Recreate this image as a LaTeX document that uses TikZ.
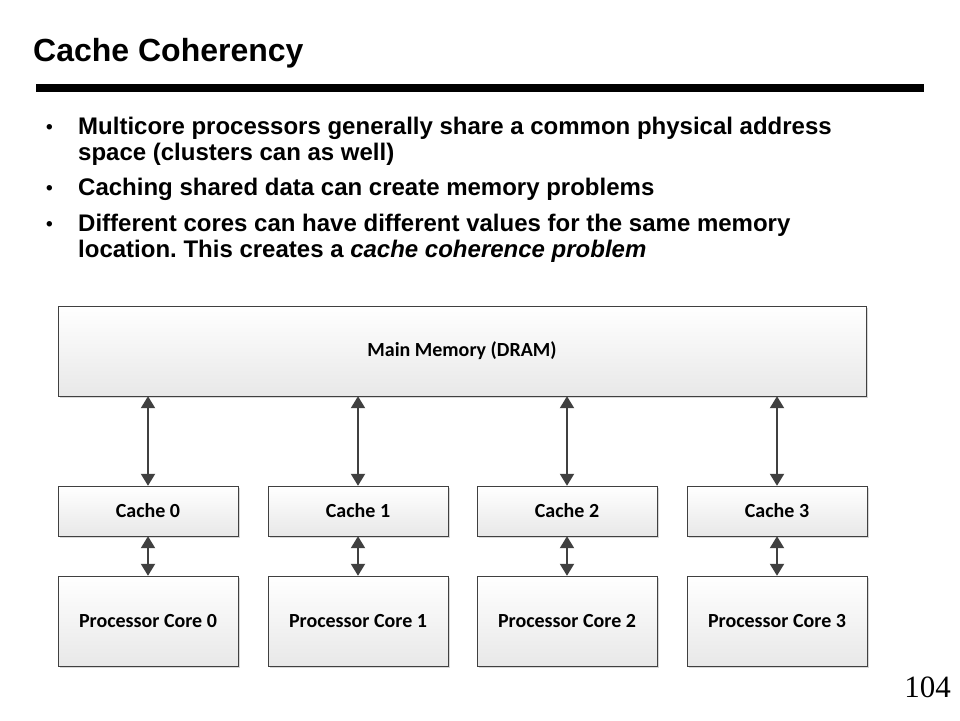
\documentclass[tikz,border=0pt]{standalone}
\usepackage{fontspec}
\setmainfont{Liberation Sans}
\newfontfamily\boxfont{Carlito}
\newfontfamily\numfont{Liberation Serif}
\usetikzlibrary{arrows.meta,shadows}
\frenchspacing
\tikzset{
  block/.style={draw=black!75, top color=white, bottom color=black!9,
    drop shadow={shadow xshift=2pt,shadow yshift=-2pt,fill=black!30},
    font=\boxfont\bfseries\fontsize{20}{24}\selectfont, inner sep=0pt},
  link/.style={draw=black!75, line width=2pt,
    {Triangle[width=14pt,length=12pt]}-{Triangle[width=14pt,length=12pt]}},
  line/.style={anchor=base west, inner sep=0pt, font=\bfseries\fontsize{24}{28}\selectfont},
  dot/.style={anchor=base west, inner sep=0pt, font=\bfseries\fontsize{19}{24}\selectfont}
}
\begin{document}
\begin{tikzpicture}[x=1pt,y=-1pt]
  \useasboundingbox (0,0) rectangle (960,720);
  % title and rule
  \node[anchor=base west, inner sep=0pt, font=\bfseries\fontsize{32}{38}\selectfont] (title) at (33,61) {Cache Coherency};
  \fill (36,84) rectangle (924,92);
  % bullets
  \foreach \y in {133,194,230}
    \node[dot] at (46,\y) {\textbullet};
  \node[line] (l1) at (78,134) {Multicore processors generally share a common physical address};
  \node[line] (l2) at (78,160) {space (clusters can as well)};
  \node[line] (l3) at (78,195) {Caching shared data can create memory problems};
  \node[line] (l4) at (78,231) {Different cores can have different values for the same memory};
  \node[line] (l5) at (78,257) {location. This creates a \textit{cache coherence problem}};
  % memory
  \node[block, minimum width=808, minimum height=90] (mem) at (462,351) {Main Memory (DRAM)};
  % caches and cores
  \foreach \i/\x in {0/148,1/358,2/567,3/777} {
    \node[block, minimum width=180, minimum height=50] (cache\i) at (\x,511) {Cache \i};
    \node[block, minimum width=180, minimum height=90] (core\i) at (\x,621) {Processor Core \i};
    \draw[link] (mem.south -| cache\i.north) -- (cache\i.north);
    \draw[link] (cache\i.south) -- (core\i.north);
  }
  % page number
  \node[anchor=base east, inner sep=0pt, font=\numfont\fontsize{31}{36}\selectfont] (page) at (951,697) {104};
\end{tikzpicture}
\end{document}
